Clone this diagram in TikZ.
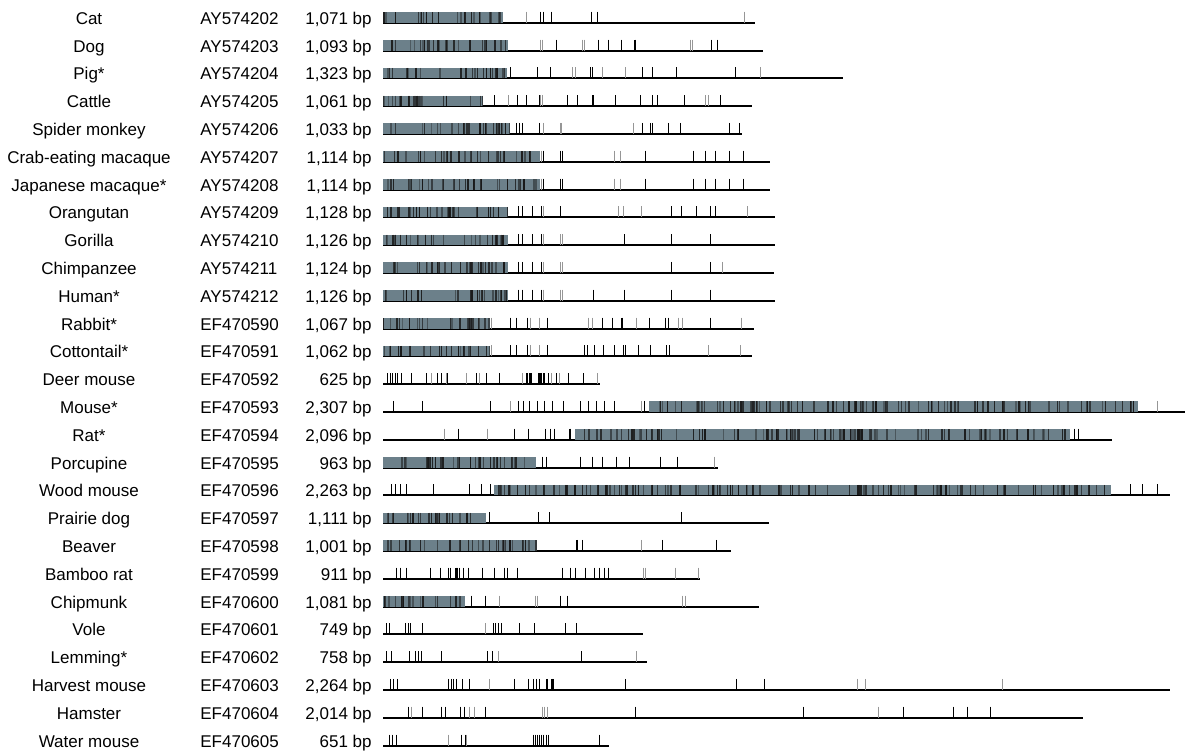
\documentclass[tikz,border=0pt]{standalone}
\usepackage{fontspec}
\setmainfont{Liberation Sans}
\usepackage{tikz}
\definecolor{seqgrey}{RGB}{108,128,138}
\definecolor{tickgrey}{RGB}{150,150,150}
\tikzset{
    txt/.style={inner sep=0pt, font=\fontsize{8.5}{10}\selectfont},
    seqline/.style={draw=black, line width=1pt},
    seqfill/.style={fill=seqgrey},
    stripe/.style={draw=black!90, line width=0.7pt},
    tickk/.style={draw=black, line width=0.5pt},
    tickg/.style={draw=tickgrey, line width=0.5pt},
    tickb/.style={draw=black, line width=1pt}
}
% one row: row, species, accession, length label, length in bp
\newcommand{\seqrow}[5]{%
    \pgfmathsetmacro{\ly}{22.7+27.8*#1}
    \node[txt, anchor=base] (sp#1) at (89,\ly+1.6) {#2};
    \node[txt, anchor=base west] (acc#1) at (200,\ly+1.6) {#3};
    \node[txt, anchor=base east] (len#1) at (372,\ly+1.6) {#4 bp};
    \draw[seqline] (383,\ly) -- ++(#5*0.3477,0);
}
% shaded block with dense marks: row, x0, x1
\newcommand{\grayblock}[3]{%
    \pgfmathsetmacro{\ly}{22.7+27.8*#1}
    \fill[seqfill] (#2,\ly-10.5) rectangle (#3,\ly);
    \pgfmathtruncatemacro{\nst}{(#3-#2)/4.6}
    \foreach \k in {1,...,\nst}{
        \pgfmathsetmacro{\sx}{#2+rnd*(#3-#2)}
        \pgfmathsetmacro{\so}{0.35+0.65*rnd}
        \draw[stripe, draw opacity=\so] (\sx,\ly-10.5) -- (\sx,\ly);
    }
}
% single marks: row, list of x/kind
\newcommand{\seqticks}[2]{%
    \pgfmathsetmacro{\ly}{22.7+27.8*#1}
    \foreach \tx/\tc in {#2} \draw[tick\tc] (\tx,\ly-11) -- (\tx,\ly);
}

\begin{document}
\begin{tikzpicture}[x=0.5pt, y=-0.5pt]
    \useasboundingbox (0,0) rectangle (1200,755);
    \pgfmathsetseed{4711}

    \seqrow{0}{Cat}{AY574202}{1,071}{1071}
    \seqrow{1}{Dog}{AY574203}{1,093}{1093}
    \seqrow{2}{Pig*}{AY574204}{1,323}{1323}
    \seqrow{3}{Cattle}{AY574205}{1,061}{1061}
    \seqrow{4}{Spider monkey}{AY574206}{1,033}{1033}
    \seqrow{5}{Crab-eating macaque}{AY574207}{1,114}{1114}
    \seqrow{6}{Japanese macaque*}{AY574208}{1,114}{1114}
    \seqrow{7}{Orangutan}{AY574209}{1,128}{1128}
    \seqrow{8}{Gorilla}{AY574210}{1,126}{1126}
    \seqrow{9}{Chimpanzee}{AY574211}{1,124}{1124}
    \seqrow{10}{Human*}{AY574212}{1,126}{1126}
    \seqrow{11}{Rabbit*}{EF470590}{1,067}{1067}
    \seqrow{12}{Cottontail*}{EF470591}{1,062}{1062}
    \seqrow{13}{Deer mouse}{EF470592}{625}{625}
    \seqrow{14}{Mouse*}{EF470593}{2,307}{2307}
    \seqrow{15}{Rat*}{EF470594}{2,096}{2096}
    \seqrow{16}{Porcupine}{EF470595}{963}{963}
    \seqrow{17}{Wood mouse}{EF470596}{2,263}{2263}
    \seqrow{18}{Prairie dog}{EF470597}{1,111}{1111}
    \seqrow{19}{Beaver}{EF470598}{1,001}{1001}
    \seqrow{20}{Bamboo rat}{EF470599}{911}{911}
    \seqrow{21}{Chipmunk}{EF470600}{1,081}{1081}
    \seqrow{22}{Vole}{EF470601}{749}{749}
    \seqrow{23}{Lemming*}{EF470602}{758}{758}
    \seqrow{24}{Harvest mouse}{EF470603}{2,264}{2264}
    \seqrow{25}{Hamster}{EF470604}{2,014}{2014}
    \seqrow{26}{Water mouse}{EF470605}{651}{651}

    % shaded stretches
    \grayblock{0}{383}{503.3}
    \grayblock{1}{383}{508}
    \grayblock{2}{383}{507.3}
    \grayblock{3}{383}{482.7}
    \grayblock{4}{383}{510}
    \grayblock{5}{383}{540}
    \grayblock{6}{383}{540}
    \grayblock{7}{383}{508.3}
    \grayblock{8}{383}{508.3}
    \grayblock{9}{383}{508.3}
    \grayblock{10}{383}{508.3}
    \grayblock{11}{383}{490}
    \grayblock{12}{383}{490}
    \grayblock{14}{649}{1137.6}
    \grayblock{15}{575.4}{1069.9}
    \grayblock{16}{383}{535.7}
    \grayblock{17}{494.4}{1111.1}
    \grayblock{18}{383}{486}
    \grayblock{19}{383}{536.7}
    \grayblock{21}{383}{465}

    % single marks
    \seqticks{0}{526/g, 540.7/k, 543/k, 551.7/k, 591.7/k, 597/k, 744/g}
    \seqticks{1}{540.7/g, 542.7/g, 556/k, 582.7/g, 584/g, 598.3/k, 608.3/k, 621.7/k, 635/b, 690/g, 692.7/g, 711/k, 717.7/k}
    \seqticks{2}{510/k, 537.3/k, 550/k, 572.7/g, 575/g, 590/k, 592.3/k, 602.3/g, 625.7/g, 642.3/k, 652.3/k, 676.7/k, 735/k, 760/g}
    \seqticks{3}{494/k, 508.3/g, 517/k, 526/k, 539.3/k, 540.7/g, 542.3/g, 567.7/k, 577.3/k, 592.7/b, 615.7/k, 640.7/k, 652.7/k, 657.3/k, 684.3/k, 705/g, 708/g, 720/k}
    \seqticks{4}{516.7/k, 519.3/k, 522.7/k, 539/k, 543/g, 560/g, 561.7/g, 633.3/g, 642.7/k, 650/k, 652.7/k, 668.3/k, 680/k, 729.3/k, 739.3/k}
    \seqticks{5}{541.7/g, 543.3/k, 560.7/k, 562.3/k, 614.3/g, 620/g, 645/k, 693.3/k, 705/k, 715.7/k, 729.3/k, 743.3/k}
    \seqticks{6}{541.7/g, 543.3/k, 560.7/k, 562.3/k, 614.3/g, 620/g, 645/k, 693.3/k, 705/k, 715.7/k, 729.3/k, 743.3/k}
    \seqticks{7}{518.7/k, 522.7/k, 532.7/k, 541/k, 543/g, 560.3/k, 618.3/g, 623.3/g, 641.7/g, 671.7/k, 681/k, 696/k, 710/k, 715/k, 747.7/g}
    \seqticks{8}{518.7/k, 522.7/k, 532.7/k, 541/k, 543/g, 560.3/g, 562.3/g, 624.3/k, 671.7/k, 710/k}
    \seqticks{9}{518.7/k, 522.7/k, 532.7/k, 541/k, 543/g, 560.3/g, 562.3/g, 671.7/k, 710/k, 722.7/g}
    \seqticks{10}{518.7/k, 522.7/k, 532.7/k, 541/k, 543/g, 560.3/g, 562.3/g, 593.3/k, 624.3/k, 671.7/k, 710/k}
    \seqticks{11}{491.7/g, 510/k, 516/k, 527.3/k, 530.7/g, 539.3/g, 547.3/k, 588.3/g, 592.3/g, 602.3/k, 612.3/k, 621.7/b, 636.7/g, 649.3/k, 665/k, 668.3/k, 678.7/g, 682.3/g, 710/k, 741.7/g}
    \seqticks{12}{491.7/g, 510/k, 516/k, 527.3/k, 530.7/g, 539.3/g, 547.3/k, 584.3/k, 587.3/k, 594/k, 603.3/k, 614.3/k, 623.3/k, 625.7/k, 638.3/k, 650/k, 666.7/k, 669.3/k, 708.3/g, 740/g}
    \seqticks{13}{387.7/k, 390/k, 392.3/k, 395/k, 397.7/k, 401.7/k, 411/k, 426/k, 431/g, 437.3/k, 441.7/k, 446/g, 447.3/k, 466/g, 476.7/k, 479.3/g, 486.7/k, 499.3/k, 522.3/g, 526.7/b, 529/k, 530.7/k, 531.7/k, 538.3/k, 540/b, 541.7/k, 543/k, 544/k, 548.3/k, 551.7/g, 556.7/k, 559.3/g, 568.3/k, 583.3/k, 597.7/g}
    \seqticks{14}{393.8/k, 422.9/k, 490.7/k, 510.3/g, 518.2/k, 523.5/k, 529.9/k, 537.3/k, 544.7/k, 552.6/k, 563.8/k, 580.7/k, 588.1/k, 596/k, 604.5/k, 614.6/k, 641.6/g, 644.7/k, 1157.2/g}
    \seqticks{15}{444.1/g, 458.9/k, 487.5/g, 514/k, 528.8/k, 545.8/k, 550/k, 554.2/k, 570.1/b, 1074/k, 1078.3/k}
    \seqticks{16}{542/k, 546.3/k, 580.7/k, 592.3/k, 602.9/k, 616.2/k, 629.4/k, 660.1/k, 677/k, 714.1/g}
    \seqticks{17}{391.2/k, 395.4/k, 400.7/k, 406/k, 433.5/k, 469.5/k, 481.2/k, 490.7/k, 1130.7/k, 1142.9/k, 1157.2/k}
    \seqticks{18}{489.3/k, 538.3/k, 549.3/k, 681.7/k}
    \seqticks{19}{576.7/b, 582.3/k, 641.7/g, 662.7/k, 716.7/k}
    \seqticks{20}{396/k, 400/k, 406/k, 430.7/k, 440/k, 448.7/k, 450.7/k, 456/b, 457.3/k, 459.3/k, 463.3/k, 468.3/k, 482.7/k, 494.3/k, 504.3/k, 507.3/k, 517.3/k, 562.7/k, 570/k, 575/k, 585/k, 594/k, 599.3/k, 604.3/k, 608.3/k, 643.3/g, 645.3/g, 675/g, 698.3/g}
    \seqticks{21}{471.7/k, 485.7/k, 499/g, 535/g, 537.7/g, 560.7/k, 567.3/k, 682.3/g, 685/g}
    \seqticks{22}{386.7/k, 389.3/k, 405.7/k, 408.3/k, 410.7/k, 422.7/k, 485/g, 493.3/k, 495/k, 498.3/k, 501.7/k, 519/k, 534.3/k, 565.3/k, 576.7/k}
    \seqticks{23}{386.9/k, 391.2/k, 409.7/k, 415/k, 418.7/k, 421.4/k, 441.5/k, 487.5/k, 492.8/k, 498.1/g, 581.8/k, 636.3/g}
    \seqticks{24}{390.1/k, 393.8/k, 397.5/k, 448.3/k, 451/k, 453.6/k, 456.3/k, 462.6/k, 469.5/k, 489.1/g, 514/k, 528.8/k, 533/k, 536.8/k, 539.4/k, 547.3/b, 551.6/b, 552.6/b, 625.7/k, 736.3/k, 764.4/k, 857/g, 865/g, 1002.6/g}
    \seqticks{25}{408.1/k, 411.3/g, 422.9/k, 441.5/k, 445.2/k, 460/k, 464.2/k, 469.5/g, 474.8/g, 485.4/k, 542/g, 544.7/g, 547.3/g, 635.7/k, 803/k, 878.2/g, 903.6/k, 953.9/k, 967.1/k, 990.4/k}
    \seqticks{26}{389.6/k, 392.8/k, 396.5/k, 448.3/g, 461.1/k, 465.3/k, 466.9/g, 533/k, 535.2/k, 537.3/k, 539.4/k, 541.5/k, 543.6/k, 546.3/k, 548.9/k, 599.2/k}
\end{tikzpicture}
\end{document}
